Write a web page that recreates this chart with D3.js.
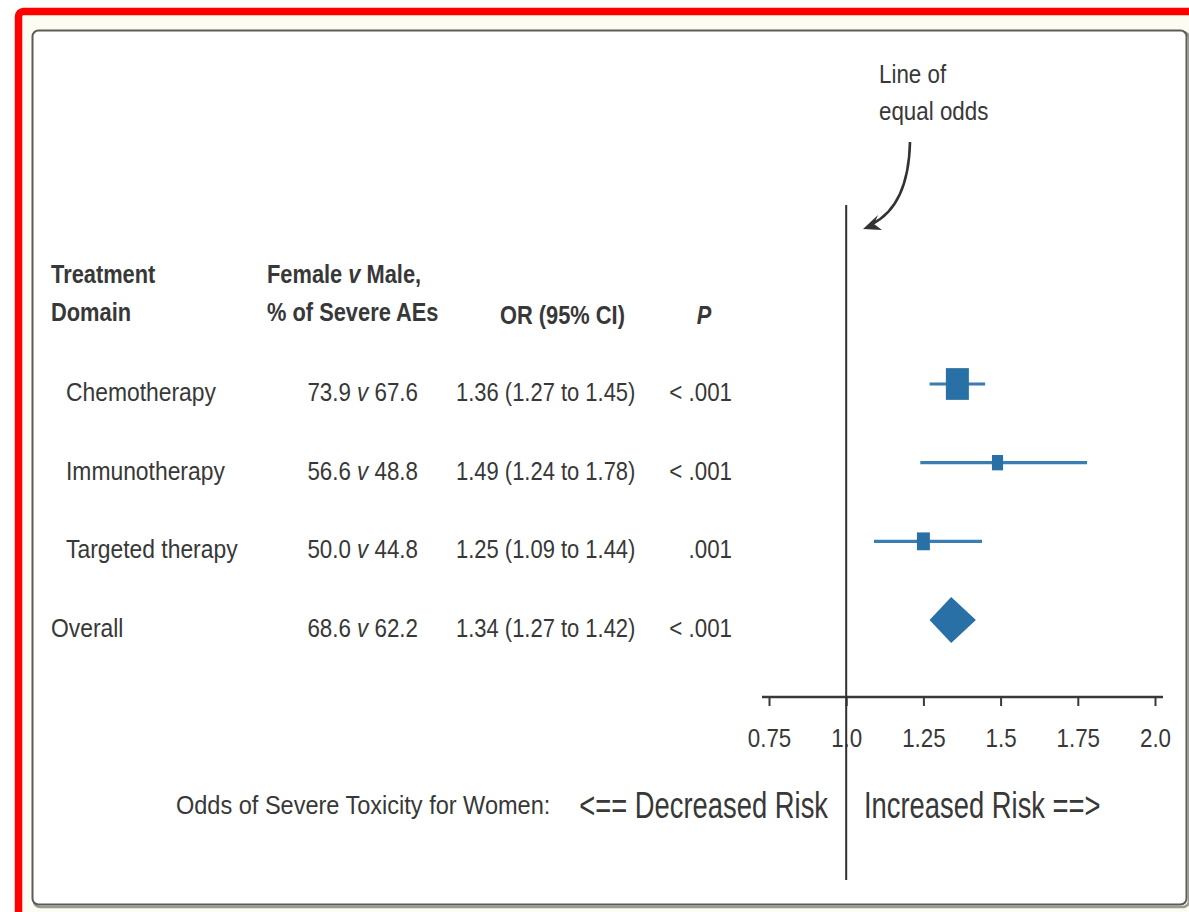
<!DOCTYPE html>
<html>
<head>
<meta charset="utf-8">
<script src="https://cdn.jsdelivr.net/npm/d3@7"></script>
<style>
  html, body { margin: 0; padding: 0; background: #ffffff; }
  svg { display: block; }
  text { font-family: "Liberation Sans", Arial, Helvetica, sans-serif; fill: #383838; }
</style>
</head>
<body>
<svg id="chart" width="1189" height="912"></svg>
<script>
// Forest plot data: treatment domains with odds ratios (95% CI) of severe AEs, women vs men
const domains   = ["Chemotherapy", "Immunotherapy", "Targeted therapy", "Overall"];
const isSummary = [false, false, false, true];
const femalePct = ["73.9", "56.6", "50.0", "68.6"];
const malePct   = ["67.6", "48.8", "44.8", "62.2"];
const orValue   = [1.36, 1.49, 1.25, 1.34];
const ciLow     = [1.27, 1.24, 1.09, 1.27];
const ciHigh    = [1.45, 1.78, 1.44, 1.42];
const pLabels   = ["< .001", "< .001", ".001", "< .001"];
const weights   = [60, 14, 19];          // relative study weight (box area)
const tickValues = [0.75, 1.0, 1.25, 1.5, 1.75, 2.0];
const tickLabels = ["0.75", "1.0", "1.25", "1.5", "1.75", "2.0"];

const svg = d3.select("#chart");
const BLUE = "#2870a6";
const INK = "#383838";
const SX = 0.86;   // condensed type

// Page frame
svg.append("rect").attr("x", 18.5).attr("y", 11.5).attr("width", 1200).attr("height", 920)
  .attr("rx", 5).attr("fill", "#fdfcf3").attr("stroke", "#ff0000").attr("stroke-width", 7.5);
svg.append("rect").attr("x", 34).attr("y", 32).attr("width", 1155).attr("height", 875)
  .attr("rx", 6).attr("fill", "none").attr("stroke", "#9a9a94").attr("stroke-width", 2.5);
svg.append("rect").attr("x", 32.5).attr("y", 30.5).attr("width", 1154).attr("height", 874)
  .attr("rx", 6).attr("fill", "#ffffff").attr("stroke", "#5b5b57").attr("stroke-width", 2);

// condensed text helper
function label(parent, x, y, str, opts = {}) {
  const t = parent.append("text")
    .attr("transform", `translate(${x},${y}) scale(${opts.sx || SX},1)`)
    .attr("text-anchor", opts.anchor || "start")
    .style("font-size", (opts.size || 26) + "px")
    .style("font-weight", opts.weight || "normal");
  if (opts.italic) t.style("font-style", "italic");
  if (str !== null) t.text(str);
  return t;
}

// Scales
const x = d3.scaleLinear().domain([0.75, 2.0]).range([769, 1155]);
const y = d3.scalePoint().domain(domains).range([384, 620]);
const side = d3.scaleSqrt().domain([0, d3.max(weights)]).range([0, 23]);
const ASPECT = 1.38;
const TEXT_DROP = 17;

// Column headers
const head = svg.append("g");
const HB = { weight: "bold", sx: 0.84 };
label(head, 51, 283, "Treatment", HB);
label(head, 51, 321, "Domain", HB);
const fm = label(head, 267, 283, null, HB);
fm.append("tspan").text("Female ");
fm.append("tspan").style("font-style", "italic").text("v");
fm.append("tspan").text(" Male,");
label(head, 267, 321, "% of Severe AEs", HB);
label(head, 500, 324, "OR (95% CI)", HB);
label(head, 704, 324, "P", { weight: "bold", italic: true, anchor: "middle", sx: 0.84 });

// Table rows
const rows = svg.append("g");
domains.forEach((d, i) => {
  const by = y(d) + TEXT_DROP;
  label(rows, isSummary[i] ? 51 : 66, by, d, { sx: 0.88 });
  const pct = label(rows, 418, by, null, { anchor: "end" });
  pct.append("tspan").text(femalePct[i] + " ");
  pct.append("tspan").style("font-style", "italic").text("v");
  pct.append("tspan").text(" " + malePct[i]);
  label(rows, 456, by, `${orValue[i].toFixed(2)} (${ciLow[i].toFixed(2)} to ${ciHigh[i].toFixed(2)})`, { sx: 0.845 });
  label(rows, 732, by, pLabels[i], { anchor: "end" });
});

// Axis
const axis = d3.axisBottom(x).tickValues(tickValues)
  .tickFormat((d, i) => tickLabels[i]).tickSize(9).tickSizeOuter(0).tickPadding(23);
const ag = svg.append("g").attr("transform", "translate(0,697)").call(axis);
ag.select(".domain").remove();
ag.selectAll(".tick line").attr("stroke", INK).attr("stroke-width", 2);
ag.selectAll(".tick text")
  .attr("transform", `scale(${SX},1)`)
  .style("font-size", "26px").style("font-family", "'Liberation Sans', Arial, sans-serif")
  .attr("fill", "#3c3c3c");
svg.append("line").attr("x1", x(0.75) - 7).attr("x2", x(2.0) + 8)
  .attr("y1", 697).attr("y2", 697).attr("stroke", INK).attr("stroke-width", 2.5);

// Line of equal odds
svg.append("line").attr("x1", x(1)).attr("x2", x(1)).attr("y1", 205).attr("y2", 880)
  .attr("stroke", "#2f2f2f").attr("stroke-width", 2);

// Confidence intervals and point estimates
const marks = svg.append("g");
domains.forEach((d, i) => {
  const cy = y(d);
  if (isSummary[i]) {
    const hh = 23;
    marks.append("path")
      .attr("d", `M${x(ciLow[i])},${cy} L${x(orValue[i])},${cy - hh} L${x(ciHigh[i])},${cy} L${x(orValue[i])},${cy + hh} Z`)
      .attr("fill", BLUE);
  } else {
    marks.append("line").attr("x1", x(ciLow[i])).attr("x2", x(ciHigh[i]))
      .attr("y1", cy).attr("y2", cy).attr("stroke", "#3a7db2").attr("stroke-width", 3.2);
    const w = side(weights[i]);
    const h = w * ASPECT;
    marks.append("rect").attr("x", x(orValue[i]) - w / 2).attr("y", cy - h / 2)
      .attr("width", w).attr("height", h).attr("fill", BLUE);
  }
});

// Annotation
label(svg, 879, 83, "Line of", { size: 26 });
label(svg, 879, 120, "equal odds", { size: 26 });
svg.append("path").attr("d", "M910,142 C909,185 896,212 872,224")
  .attr("fill", "none").attr("stroke", "#333").attr("stroke-width", 2.6);
svg.append("path").attr("d", "M863,229 L878,215 L874,224 L882,230 Z").attr("fill", "#333");

// Direction caption
label(svg, 176, 814, "Odds of Severe Toxicity for Women:", { size: 26, sx: 0.905 });
label(svg, 828, 818, "<== Decreased Risk", { size: 37, sx: 0.74, anchor: "end" });
label(svg, 864, 818, "Increased Risk ==>", { size: 37, sx: 0.74 });
</script>
</body>
</html>
